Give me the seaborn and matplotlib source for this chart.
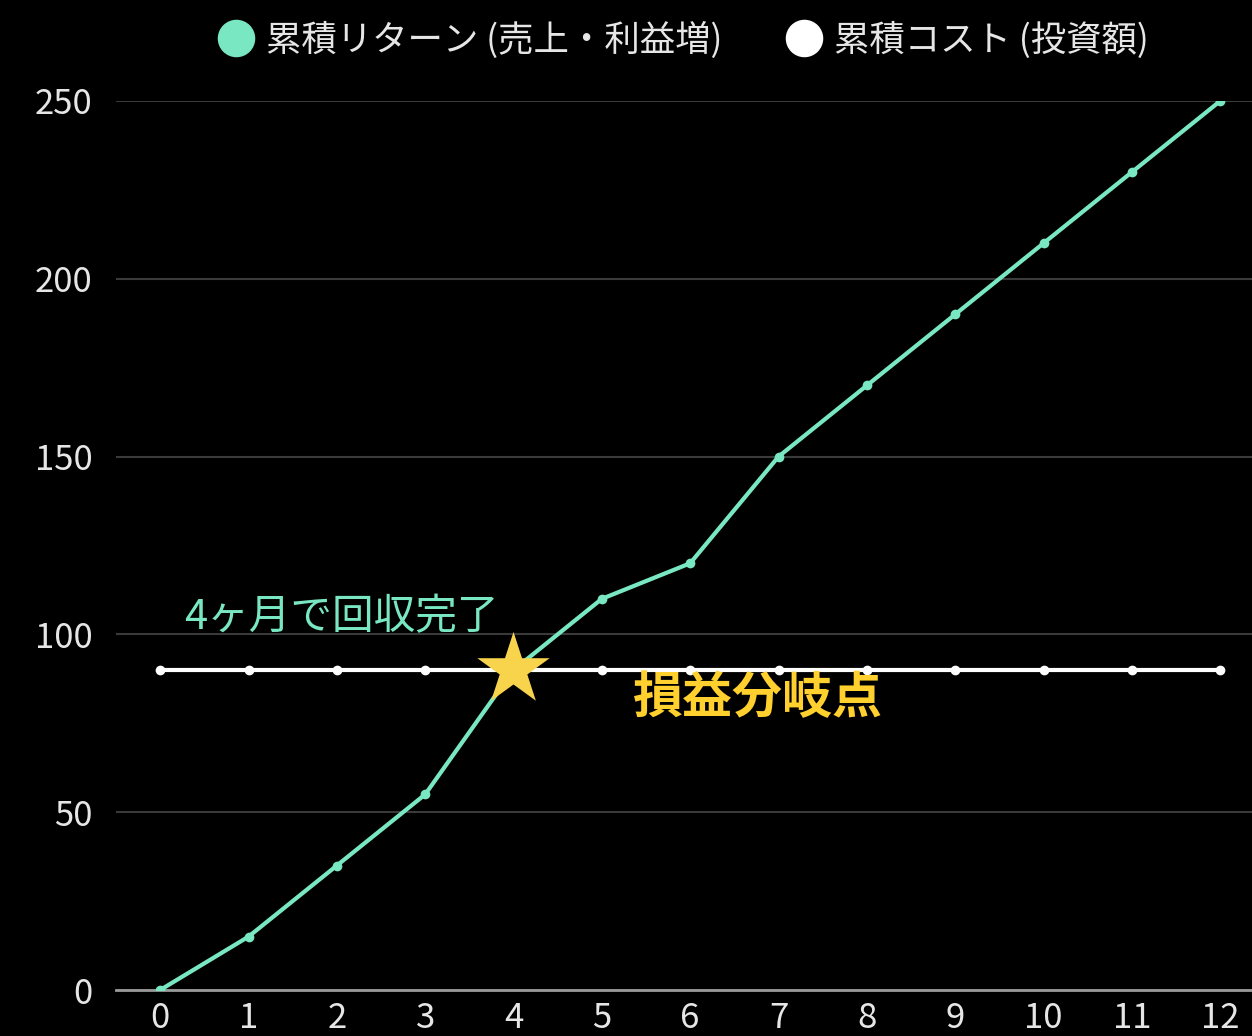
import matplotlib
matplotlib.use("Agg")
import matplotlib.pyplot as plt
from matplotlib.lines import Line2D
import seaborn as sns
import pandas as pd

months = [0, 1, 2, 3, 4, 5, 6, 7, 8, 9, 10, 11, 12]
cum_return = [0, 15, 35, 55, 90, 110, 120, 150, 170, 190, 210, 230, 250]
cum_cost = [90, 90, 90, 90, 90, 90, 90, 90, 90, 90, 90, 90, 90]
label_return = "累積リターン (売上・利益増)"
label_cost = "累積コスト (投資額)"
y_ticks = [0, 50, 100, 150, 200, 250]
breakeven_month = 4
breakeven_value = 90
note_text = "4ヶ月で回収完了"
be_text = "損益分岐点"

GREEN = "#79e8c2"
WHITE = "#ffffff"
GOLD = "#f8d44c"

sns.set_theme(style="dark")
plt.rcParams['font.family'] = ['Noto Sans CJK JP', 'DejaVu Sans']

fig = plt.figure(figsize=(12.52, 10.36), dpi=100, facecolor="black")
ax = fig.add_axes([116/1252, 1 - 990/1036, (1252 - 116)/1252, (990 - 101)/1036])
ax.set_facecolor("black")

df = pd.DataFrame({"month": months, "ret": cum_return, "cost": cum_cost})
sns.lineplot(data=df, x="month", y="cost", ax=ax, color=WHITE, linewidth=3,
             marker="o", markersize=7, markeredgewidth=0, zorder=3)
sns.lineplot(data=df, x="month", y="ret", ax=ax, color=GREEN, linewidth=3,
             marker="o", markersize=7, markeredgewidth=0, zorder=4)

ax.scatter([breakeven_month], [breakeven_value], marker="*", s=3000,
           color=GOLD, edgecolors="none", zorder=6)

ax.text(0.27, 104.8, note_text, color=GREEN, fontsize=30, va="center", ha="left", zorder=7)
ax.text(5.35, 82.0, be_text, color="#ffd02e", fontsize=36, fontweight="bold",
        va="center", ha="left", zorder=7)

ax.set_xlim(-0.5, 12.36)
ax.set_ylim(0, 250)
ax.set_xticks(months)
ax.set_yticks(y_ticks)
ax.set_xlabel("")
ax.set_ylabel("")
ax.tick_params(axis="both", colors="#e6e6e6", labelsize=25, length=0)
ax.tick_params(axis="x", pad=8)
ax.tick_params(axis="y", pad=17)
ax.grid(axis="y", color="#3a3a3a", linewidth=1.5)
ax.grid(axis="x", visible=False)
for s in ["top", "right", "left"]:
    ax.spines[s].set_visible(False)
ax.spines["bottom"].set_color("#9a9a9a")
ax.spines["bottom"].set_linewidth(2)

handles = [
    Line2D([], [], linestyle="none", marker="o", markersize=26, color=GREEN, label=label_return),
    Line2D([], [], linestyle="none", marker="o", markersize=26, color=WHITE, label=label_cost),
]
leg = fig.legend(handles=handles, loc="center", bbox_to_anchor=(0.546, 1 - 40/1036), ncol=2,
                 frameon=False, fontsize=25.5, handlelength=1.0, handletextpad=0.35,
                 columnspacing=1.8)
for t in leg.get_texts():
    t.set_color("#e6e6e6")

fig.savefig("out.png", dpi=100, facecolor="black")
